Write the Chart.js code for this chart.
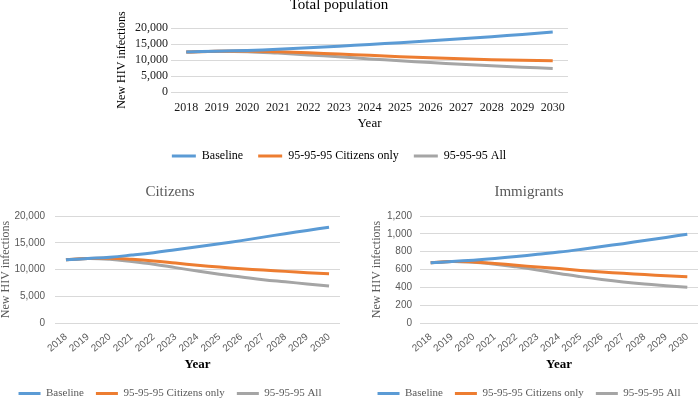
<!DOCTYPE html>
<html>
<head>
<meta charset="utf-8">
<script src="https://cdn.jsdelivr.net/npm/chart.js@4.4.1/dist/chart.umd.min.js"></script>
<style>
  body { margin: 0; background: #fff; width: 700px; height: 402px; overflow: hidden; position: relative; }
  canvas { position: absolute; }
</style>
</head>
<body>
<canvas id="total" width="470" height="176" style="left:110px;top:-4px"></canvas>
<canvas id="citizens" width="342" height="224" style="left:0px;top:185px"></canvas>
<canvas id="immigrants" width="340" height="224" style="left:360px;top:185px"></canvas>
<script>
const years = ['2018', '2019', '2020', '2021', '2022', '2023', '2024', '2025', '2026', '2027', '2028', '2029', '2030'];
const seriesNames = ['Baseline', '95-95-95 Citizens only', '95-95-95 All'];
const seriesColors = ['#5B9BD5', '#ED7D31', '#A5A5A5'];

// Total population
const totalBaseline = [12500, 12750, 13000, 13350, 13800, 14300, 14850, 15400, 16000, 16650, 17300, 18000, 18750];
const totalCitizensOnly = [12500, 12750, 12800, 12550, 12250, 11850, 11450, 11050, 10700, 10400, 10100, 9900, 9750];
const totalAll = [12500, 12750, 12600, 12150, 11600, 11000, 10350, 9750, 9200, 8650, 8200, 7750, 7350];

// Citizens
const citBaseline = [11800, 12050, 12300, 12700, 13150, 13700, 14250, 14800, 15400, 16050, 16700, 17300, 17900];
const citCitizensOnly = [11800, 12050, 12100, 11900, 11600, 11200, 10800, 10450, 10150, 9900, 9650, 9400, 9200];
const citAll = [11800, 12050, 11900, 11500, 11000, 10350, 9700, 9100, 8600, 8100, 7700, 7300, 6900];

// Immigrants
const immBaseline = [675, 690, 705, 723, 745, 770, 795, 825, 858, 890, 925, 960, 995];
const immCitizensOnly = [675, 690, 685, 668, 648, 628, 610, 590, 573, 557, 543, 530, 520];
const immAll = [675, 690, 680, 660, 630, 595, 555, 520, 488, 460, 437, 418, 400];

const serif = "'Liberation Serif', 'Times New Roman', serif";
const sans = "'Liberation Sans', Arial, sans-serif";

function drawPanel(id, title, series, yMax, yStep, look) {
  new Chart(document.getElementById(id), {
    type: 'line',
    data: {
      labels: years,
      datasets: series.map((vals, i) => ({
        label: seriesNames[i],
        data: vals,
        borderColor: seriesColors[i],
        backgroundColor: seriesColors[i],
        borderWidth: 3,
        pointRadius: 0,
        tension: 0.4
      }))
    },
    options: {
      responsive: false,
      animation: false,
      layout: { padding: { left: 0, right: look.padRight, top: 0, bottom: 0 } },
      plugins: {
        tooltip: { enabled: false },
        title: {
          display: true,
          text: title,
          color: look.titleColor,
          font: { family: serif, size: 15, weight: 'normal', lineHeight: look.titleLineHeight },
          padding: { top: 0, bottom: look.titleGap }
        },
        legend: {
          position: 'bottom',
          labels: {
            boxWidth: look.legendBox,
            boxHeight: 3,
            padding: look.legendPad,
            color: look.textColor,
            font: { family: serif, size: look.legendSize },
            generateLabels: chart => Chart.defaults.plugins.legend.labels.generateLabels(chart)
              .map(l => Object.assign(l, { lineWidth: 0 }))
          }
        }
      },
      scales: {
        x: {
          offset: true,
          grid: { display: false },
          border: { display: false },
          ticks: {
            autoSkip: false,
            minRotation: look.rotation,
            maxRotation: look.rotation,
            padding: look.xTickPad,
            color: look.tickColor,
            font: { family: look.tickFamily, size: look.tickSize }
          },
          title: {
            display: true,
            text: 'Year',
            color: '#000',
            padding: { top: 0, bottom: look.yearGap },
            font: { family: serif, size: 13, weight: look.yearWeight, lineHeight: 1.2 }
          },
          afterFit: s => { s.height = look.xHeight; }
        },
        y: {
          min: 0,
          max: yMax,
          grid: { color: '#D9D9D9', drawTicks: false, lineWidth: 1 },
          border: { display: false },
          ticks: {
            autoSkip: false,
            stepSize: yStep,
            padding: look.yTickPad,
            color: look.tickColor,
            font: { family: look.tickFamily, size: look.tickSize },
            callback: v => v.toLocaleString('en-US')
          },
          title: {
            display: true,
            text: 'New HIV infections',
            color: look.textColor,
            padding: { top: look.yTitlePad, bottom: 0 },
            font: { family: serif, size: 12, lineHeight: 1 }
          },
          afterFit: s => { s.width = look.yWidth; }
        }
      }
    }
  });
}

drawPanel('total', 'Total population', [totalBaseline, totalCitizensOnly, totalAll], 20000, 5000, {
  padRight: 12, titleColor: '#000', titleLineHeight: 1.2, titleGap: 14,
  legendBox: 24, legendPad: 15, legendSize: 12, textColor: '#000',
  rotation: 0, xTickPad: 1, tickColor: '#1a1a1a', tickFamily: serif, tickSize: 12,
  yearWeight: 'normal', yearGap: 4, xHeight: 43, yTickPad: 3, yTitlePad: 6, yWidth: 61
});

drawPanel('citizens', 'Citizens', [citBaseline, citCitizensOnly, citAll], 20000, 5000, {
  padRight: 2, titleColor: '#595959', titleLineHeight: 1, titleGap: 16,
  legendBox: 22, legendPad: 12, legendSize: 11, textColor: '#595959',
  rotation: 40, xTickPad: 0, tickColor: '#595959', tickFamily: sans, tickSize: 10,
  yearWeight: 'bold', yearGap: 4, xHeight: 53, yTickPad: 10, yTitlePad: 0, yWidth: 55
});

drawPanel('immigrants', 'Immigrants', [immBaseline, immCitizensOnly, immAll], 1200, 200, {
  padRight: 2, titleColor: '#595959', titleLineHeight: 1, titleGap: 16,
  legendBox: 22, legendPad: 12, legendSize: 11, textColor: '#595959',
  rotation: 40, xTickPad: 0, tickColor: '#595959', tickFamily: sans, tickSize: 10,
  yearWeight: 'bold', yearGap: 4, xHeight: 53, yTickPad: 8, yTitlePad: 11, yWidth: 60
});
</script>
</body>
</html>
